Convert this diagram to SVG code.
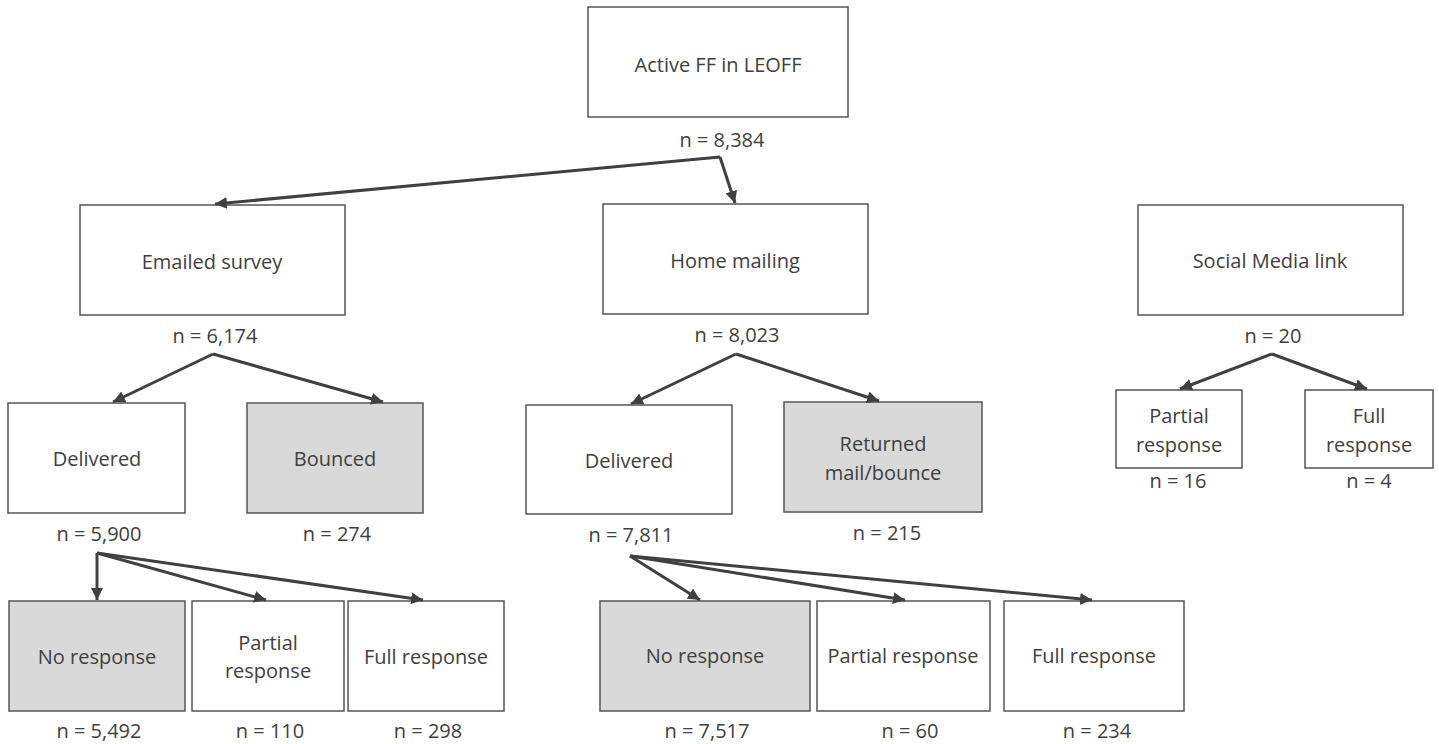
<svg xmlns="http://www.w3.org/2000/svg" width="1439" height="744" viewBox="0 0 1439 744">
<defs>
<marker id="ah" markerUnits="userSpaceOnUse" markerWidth="14" markerHeight="12" refX="12" refY="6" orient="auto">
<path d="M0,0 L12,6 L0,12 Z" fill="#404040"/>
</marker>
<style>
.box{fill:#ffffff;stroke:#555555;stroke-width:1.5}
.grey{fill:#d9d9d9}
text{font-family:"Open Sans","Liberation Sans",sans-serif;font-size:20px;fill:#404040;text-anchor:middle}
.c line{stroke:#404040;stroke-width:3;marker-end:url(#ah)}
</style>
</defs>
<rect width="1439" height="744" fill="#ffffff"/>
<g id="active"><rect class="box" x="588" y="7" width="260" height="110"/><text x="718" y="72">Active FF in LEOFF</text><text x="722" y="147">n = 8,384</text></g>
<g id="emailed"><rect class="box" x="80" y="205" width="265" height="110"/><text x="212" y="269">Emailed survey</text><text x="215" y="343">n = 6,174</text></g>
<g id="home"><rect class="box" x="603" y="204" width="265" height="110"/><text x="735" y="268">Home mailing</text><text x="737" y="342">n = 8,023</text></g>
<g id="social"><rect class="box" x="1138" y="205" width="265" height="110"/><text x="1270" y="268">Social Media link</text><text x="1273" y="343">n = 20</text></g>
<g id="e-delivered"><rect class="box" x="8" y="403" width="177" height="110"/><text x="97" y="466">Delivered</text><text x="99" y="541">n = 5,900</text></g>
<g id="e-bounced"><rect class="box grey" x="247" y="403" width="176" height="110"/><text x="335" y="466">Bounced</text><text x="337" y="541">n = 274</text></g>
<g id="h-delivered"><rect class="box" x="526" y="405" width="206" height="109"/><text x="629" y="468">Delivered</text><text x="631" y="542">n = 7,811</text></g>
<g id="h-returned"><rect class="box grey" x="784" y="402" width="198" height="110"/><text x="883" y="451">Returned</text><text x="883" y="480">mail/bounce</text><text x="887" y="540">n = 215</text></g>
<g id="s-partial"><rect class="box" x="1116" y="390" width="126" height="78"/><text x="1179" y="423">Partial</text><text x="1179" y="452">response</text><text x="1178" y="488">n = 16</text></g>
<g id="s-full"><rect class="box" x="1305" y="390" width="128" height="78"/><text x="1369" y="423">Full</text><text x="1369" y="452">response</text><text x="1369" y="488">n = 4</text></g>
<g id="e-none"><rect class="box grey" x="9" y="601" width="176" height="110"/><text x="97" y="664">No response</text><text x="99" y="738">n = 5,492</text></g>
<g id="e-partial"><rect class="box" x="192" y="601" width="152" height="110"/><text x="268" y="650">Partial</text><text x="268" y="678">response</text><text x="270" y="738">n = 110</text></g>
<g id="e-full"><rect class="box" x="348" y="601" width="156" height="110"/><text x="426" y="664">Full response</text><text x="428" y="738">n = 298</text></g>
<g id="h-none"><rect class="box grey" x="600" y="601" width="210" height="110"/><text x="705" y="663">No response</text><text x="707" y="738">n = 7,517</text></g>
<g id="h-partial"><rect class="box" x="817" y="601" width="173" height="110"/><text x="903" y="663">Partial response</text><text x="910" y="738">n = 60</text></g>
<g id="h-full"><rect class="box" x="1004" y="601" width="180" height="110"/><text x="1094" y="663">Full response</text><text x="1097" y="738">n = 234</text></g>
<g id="connectors" class="c">
<line x1="720" y1="157" x2="215" y2="204"/>
<line x1="720" y1="157" x2="735" y2="203"/>
<line x1="213" y1="354" x2="113" y2="402"/>
<line x1="213" y1="354" x2="383" y2="402"/>
<line x1="736" y1="354" x2="631" y2="404"/>
<line x1="736" y1="354" x2="879" y2="401"/>
<line x1="1272" y1="354" x2="1180" y2="389"/>
<line x1="1272" y1="354" x2="1367" y2="389"/>
<line x1="97" y1="553" x2="97" y2="600"/>
<line x1="97" y1="553" x2="266" y2="600"/>
<line x1="97" y1="553" x2="423" y2="600"/>
<line x1="630" y1="556" x2="700" y2="600"/>
<line x1="630" y1="556" x2="905" y2="600"/>
<line x1="630" y1="556" x2="1092" y2="600"/>
</g>
</svg>
